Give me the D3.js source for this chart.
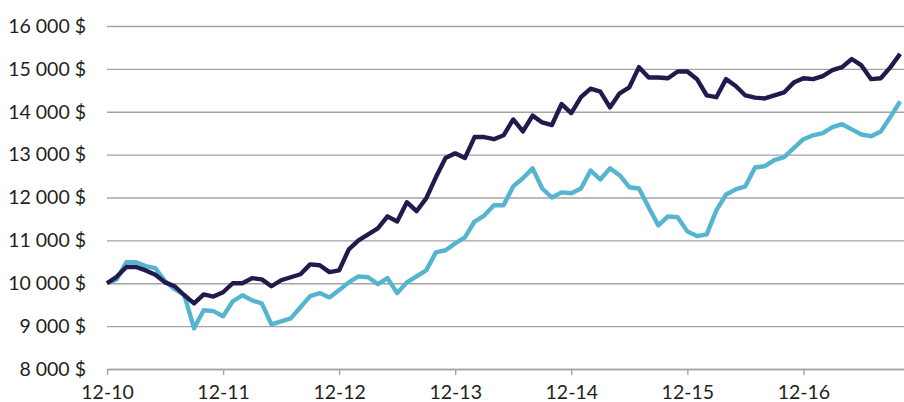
<!DOCTYPE html>
<html>
<head>
<meta charset="utf-8">
<script src="https://cdn.jsdelivr.net/npm/d3@7"></script>
<style>
  body { margin: 0; background: #fff; }
  svg { display: block; }
  .tick text { font-family: Lato, "Open Sans", sans-serif; }
</style>
</head>
<body>
<svg width="904" height="402"></svg>
<script>
// month index 0 = 12-10 (déc. 2010)
var tickMonths = [0, 12, 24, 36, 48, 60, 72];
var tickLabels = ["12-10", "12-11", "12-12", "12-13", "12-14", "12-15", "12-16"];
var yTicks = [8000, 9000, 10000, 11000, 12000, 13000, 14000, 15000, 16000];

var fundValues = [
  10000, 10150, 10380, 10380, 10300, 10200, 10020, 9930, 9720, 9530,
  9740, 9690, 9790, 10000, 10000, 10120, 10090, 9930, 10070, 10140,
  10210, 10440, 10420, 10260, 10300, 10790, 11000, 11140, 11280, 11560,
  11440, 11890, 11680, 11980, 12470, 12920, 13030, 12920, 13410, 13410,
  13360, 13450, 13820, 13540, 13910, 13750, 13690, 14180, 13970, 14340,
  14540, 14470, 14100, 14430, 14570, 15040, 14800, 14800, 14780, 14940,
  14940, 14760, 14380, 14340, 14760, 14600, 14380, 14330, 14310, 14380,
  14450, 14680, 14780, 14760, 14830, 14970, 15040, 15230, 15080, 14760,
  14780, 15040, 15350
];
var indexValues = [
  10000, 10090, 10490, 10490, 10400, 10350, 10050, 9860, 9720, 8950,
  9370, 9350, 9230, 9580, 9720, 9600, 9530, 9040, 9110, 9180,
  9440, 9700, 9770, 9670, 9840, 10020, 10160, 10140, 9980, 10120,
  9770, 10020, 10160, 10300, 10720, 10770, 10930, 11070, 11440, 11580,
  11820, 11820, 12260, 12450, 12680, 12210, 12000, 12120, 12100, 12210,
  12630, 12420, 12680, 12520, 12240, 12210, 11770, 11350, 11560, 11540,
  11210, 11100, 11140, 11700, 12070, 12190, 12260, 12700, 12730, 12870,
  12940, 13150, 13360, 13450, 13500, 13640, 13710, 13590, 13470, 13430,
  13540, 13880, 14240
];

var svg = d3.select("svg");
var plotLeft = 107, plotRight = 904, plotTop = 26, plotBottom = 369;

var x = d3.scaleLinear().domain([0, 82.4]).range([plotLeft, plotRight]);
var y = d3.scaleLinear().domain([8000, 16000]).range([plotBottom, plotTop]);

var fmt = function(d) { return d3.format(",")(d).replace(",", " ") + " $"; };

// horizontal grid + y labels
var yAxis = svg.append("g")
  .attr("transform", "translate(" + plotLeft + ",0)")
  .call(d3.axisLeft(y).tickValues(yTicks).tickFormat(fmt)
    .tickSize(-(plotRight - plotLeft)).tickPadding(21));
yAxis.select(".domain").remove();
yAxis.selectAll(".tick line").attr("stroke", "#a3a3a3").attr("stroke-width", 1.4);
yAxis.selectAll(".tick text")
  .style("font-size", "19.5px")
  .attr("fill", "#231f20");

// bottom axis
var xAxis = svg.append("g")
  .attr("transform", "translate(0," + plotBottom + ")")
  .call(d3.axisBottom(x).tickValues(tickMonths)
    .tickFormat(function(d, i) { return tickLabels[i]; })
    .tickSizeInner(6).tickSizeOuter(0).tickPadding(10));
xAxis.select(".domain").attr("stroke", "#a3a3a3").attr("stroke-width", 1.4);
xAxis.selectAll(".tick line").attr("stroke", "#a3a3a3").attr("stroke-width", 1.4);
xAxis.selectAll(".tick text")
  .style("font-size", "19.5px")
  .attr("fill", "#231f20");

var line = d3.line()
  .x(function(d, i) { return x(i); })
  .y(function(d) { return y(d); });

svg.append("path")
  .datum(indexValues)
  .attr("fill", "none")
  .attr("stroke", "#55b4d0")
  .attr("stroke-width", 4.4)
  .attr("stroke-linejoin", "round")
  .attr("d", line);

svg.append("path")
  .datum(fundValues)
  .attr("fill", "none")
  .attr("stroke", "#1f1c4d")
  .attr("stroke-width", 4.4)
  .attr("stroke-linejoin", "round")
  .attr("d", line);
</script>
</body>
</html>
